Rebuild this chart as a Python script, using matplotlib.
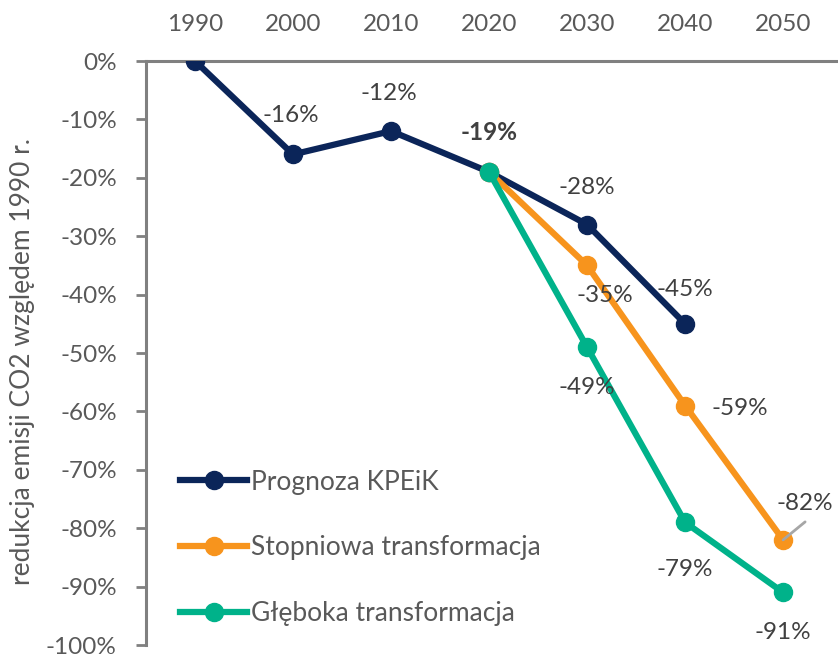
import matplotlib
matplotlib.use("Agg")
import matplotlib.pyplot as plt

years = ["1990", "2000", "2010", "2020", "2030", "2040", "2050"]
kpeik = [0, -16, -12, -19, -28, -45]
stopniowa = [-19, -35, -59, -82]
gleboka = [-19, -49, -79, -91]
kpeik_labels = ["", "-16%", "-12%", "-19%", "-28%", "-45%"]
stop_labels = ["", "-35%", "-59%", "-82%"]
gleb_labels = ["", "-49%", "-79%", "-91%"]
series_names = ["Prognoza KPEiK", "Stopniowa transformacja", "Głęboka transformacja"]
yticks = [0, -10, -20, -30, -40, -50, -60, -70, -80, -90, -100]

plt.rcParams['font.family'] = ['Lato', 'DejaVu Sans']
FS = 17.5
FS_LEG = 19
tick_col = "#595959"
lab_col = "#404040"
navy = "#0B2559"
orange = "#F7941D"
green = "#00B28A"

fig = plt.figure(figsize=(8.38, 6.57), dpi=100)
ax = fig.add_axes([146/838, 1-645/657, (838-146)/838, (645-61)/657])

xk = list(range(len(kpeik)))
xs = list(range(3, 3 + len(stopniowa)))
xg = list(range(3, 3 + len(gleboka)))

lw = 4.5
ms = 13
ax.plot(xk, kpeik, color=navy, lw=lw, marker='o', ms=ms, label=series_names[0], zorder=3)
ax.plot(xs, stopniowa, color=orange, lw=lw, marker='o', ms=ms, label=series_names[1], zorder=4)
ax.plot(xg, gleboka, color=green, lw=lw, marker='o', ms=ms, label=series_names[2], zorder=5)

ax.set_xlim(-0.5, 6.56)
ax.set_ylim(-100, 0)
ax.set_xticks(range(len(years)))
ax.set_xticklabels(years)
ax.xaxis.tick_top()
ax.tick_params(axis='x', length=0, labelsize=FS, colors=tick_col, pad=19)
ax.set_yticks(yticks)
ax.set_yticklabels([f"{v}%" for v in yticks])
ax.tick_params(axis='y', length=7, width=2, color="#808080", labelsize=FS, labelcolor=tick_col, pad=14)

for s in ['right', 'bottom']:
    ax.spines[s].set_visible(False)
for s in ['left', 'top']:
    ax.spines[s].set_color("#808080")
    ax.spines[s].set_linewidth(2.2)
ax.spines['top'].set_zorder(1)

ax.set_ylabel("redukcja emisji CO2 względem 1990 r.", fontsize=FS_LEG, color=tick_col)
ax.yaxis.set_label_coords(-(146-35)/692, 0.486)

def lab(x, y, t, dx, dy, bold=False):
    ax.annotate(t, (x, y), xytext=(dx, dy), textcoords='offset pixels',
                ha='center', va='center', fontsize=FS, color=lab_col,
                fontweight='bold' if bold else 'normal', zorder=6)

k_off = [(0, 0), (-2, 39), (-2, 38), (0, 39), (0, 37), (0, 34)]
for i, (x, y, t) in enumerate(zip(xk, kpeik, kpeik_labels)):
    if t:
        lab(x, y, t, *k_off[i], bold=(i == 3))
s_off = [(0, 0), (18, -30), (55, -3), (22, 36)]
for i, (x, y, t) in enumerate(zip(xs, stopniowa, stop_labels)):
    if t:
        lab(x, y, t, *s_off[i])
g_off = [(0, 0), (0, -40), (0, -47), (0, -40)]
for i, (x, y, t) in enumerate(zip(xg, gleboka, gleb_labels)):
    if t:
        lab(x, y, t, *g_off[i])

# leader line for -82%
ax.annotate("", xy=(xs[-1], stopniowa[-1]), xytext=(22, 18), textcoords='offset pixels',
            arrowprops=dict(arrowstyle='-', color="#A6A6A6", lw=2, shrinkA=0, shrinkB=0), zorder=7)

leg = ax.legend(loc='center left', bbox_to_anchor=(180/838, 1-548/657), bbox_transform=fig.transFigure,
                frameon=False, fontsize=FS_LEG, labelcolor=tick_col, handlelength=2.55,
                handletextpad=0.15, labelspacing=1.55, borderaxespad=0, borderpad=0)

fig.savefig("out.png", dpi=100)
